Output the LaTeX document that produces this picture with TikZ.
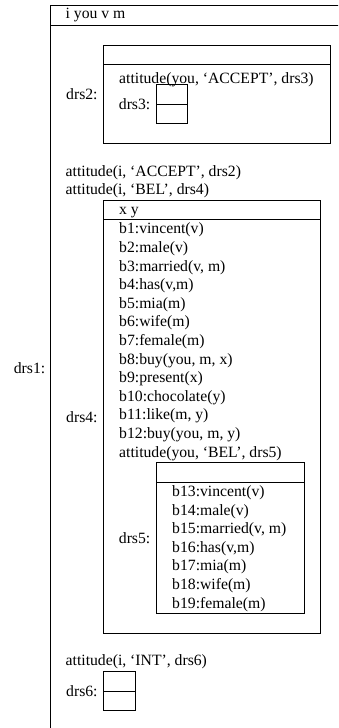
\documentclass[tikz,border=0pt]{standalone}
\usepackage{fontspec}
\setmainfont{Liberation Serif}
\begin{document}
\begin{tikzpicture}[x=1pt,y=-1pt,
  txt/.style={inner sep=0pt,anchor=base west,font=\fontsize{15.7}{18.6}\selectfont},
  lbl/.style={inner sep=0pt,anchor=east,font=\fontsize{15.7}{18.6}\selectfont},
  box/.style={draw=black,line width=0.8pt}]
\useasboundingbox (0,0) rectangle (338,728);
\clip (0,0) rectangle (338,728);
% drs1 (outer)
\draw[box] (50,5) rectangle (346,731);
\draw[box] (50,25) -- (346,25);
\node[txt] (u1) at (65.5,18.5) {i you v m};
\node[lbl] (l1) at (45.5,368) {drs1:};
% drs2
\draw[box] (103.3,45) rectangle (330.7,143.3);
\draw[box] (103.3,64.3) -- (330.7,64.3);
\node[lbl] (l2) at (97.8,94.2) {drs2:};
\node[txt] (c2a) at (119,83) {attitude(you, ‘ACCEPT’, drs3)};
% drs3
\draw[box] (156,84.3) rectangle (187.7,123.3);
\draw[box] (156,104) -- (187.7,104);
\node[lbl] (l3) at (150.5,104) {drs3:};
% conditions of drs1
\node[txt] (c1a) at (65.5,176.5) {attitude(i, ‘ACCEPT’, drs2)};
\node[txt] (c1b) at (65.5,194.5) {attitude(i, ‘BEL’, drs4)};
% drs4
\draw[box] (103.3,200) rectangle (320,633.3);
\draw[box] (103.3,219.3) -- (320,219.3);
\node[lbl] (l4) at (97.8,416.7) {drs4:};
\node[txt] (u4) at (119,214) {x y};
\foreach \t [count=\i from 0] in {{b1:vincent(v)},{b2:male(v)},{b3:married(v, m)},{b4:has(v,m)},{b5:mia(m)},{b6:wife(m)},{b7:female(m)},{b8:buy(you, m, x)},{b9:present(x)},{b10:chocolate(y)},{b11:like(m, y)},{b12:buy(you, m, y)}}
  \node[txt] (c4-\i) at (119,233.8+18.6*\i) {\t};
\node[txt] (c4att) at (119,233.8+18.6*12) {attitude(you, ‘BEL’, drs5)};
% drs5
\draw[box] (156,462.7) rectangle (304,613.3);
\draw[box] (156,482.3) -- (304,482.3);
\node[lbl] (l5) at (150.5,538) {drs5:};
\foreach \t [count=\i from 0] in {{b13:vincent(v)},{b14:male(v)},{b15:married(v, m)},{b16:has(v,m)},{b17:mia(m)},{b18:wife(m)},{b19:female(m)}}
  \node[txt] (c5-\i) at (172,496.4+18.6*\i) {\t};
% drs6
\node[txt] (c1c) at (65.5,665.3) {attitude(i, ‘INT’, drs6)};
\draw[box] (103.3,671.7) rectangle (135.3,710.7);
\draw[box] (103.3,691) -- (135.3,691);
\node[lbl] (l6) at (97.8,691) {drs6:};
\end{tikzpicture}
\end{document}
